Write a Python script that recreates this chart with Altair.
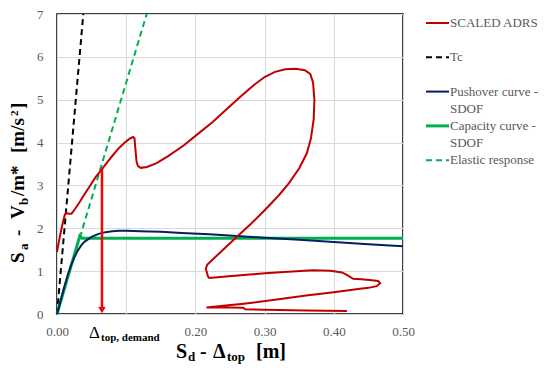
import altair as alt
import pandas as pd

# ---------------- data ----------------
adrs_x = [0.000, 0.004, 0.008, 0.011, 0.013, 0.017, 0.021, 0.026, 0.033, 0.040, 0.048, 0.056,
          0.065, 0.073, 0.081, 0.090, 0.098, 0.105, 0.110, 0.112, 0.113, 0.115, 0.117, 0.121,
          0.130, 0.144, 0.160, 0.183, 0.205, 0.225, 0.245, 0.265, 0.285, 0.300, 0.315, 0.330,
          0.345, 0.358, 0.366, 0.370, 0.372, 0.371, 0.367, 0.361, 0.350, 0.335, 0.320, 0.300,
          0.280, 0.260, 0.240, 0.225, 0.217, 0.215, 0.217, 0.218, 0.220, 0.240, 0.270, 0.300,
          0.340, 0.370, 0.395, 0.412, 0.420, 0.428, 0.440, 0.455, 0.464, 0.467, 0.462, 0.450,
          0.438, 0.400, 0.360, 0.315, 0.270, 0.240, 0.216, 0.250, 0.269, 0.272, 0.300, 0.360,
          0.419]
adrs_y = [1.45, 1.80, 2.10, 2.30, 2.36, 2.34, 2.34, 2.45, 2.62, 2.80, 3.00, 3.20,
          3.38, 3.55, 3.71, 3.88, 4.00, 4.09, 4.13, 4.10, 3.90, 3.55, 3.45, 3.41,
          3.43, 3.52, 3.68, 3.93, 4.22, 4.48, 4.78, 5.07, 5.35, 5.53, 5.65, 5.71,
          5.72, 5.69, 5.60, 5.40, 5.00, 4.55, 4.10, 3.75, 3.40, 3.05, 2.76, 2.42,
          2.10, 1.80, 1.50, 1.27, 1.15, 1.05, 0.95, 0.88, 0.84, 0.87, 0.91, 0.95,
          0.99, 1.02, 1.01, 0.97, 0.90, 0.82, 0.81, 0.79, 0.77, 0.72, 0.65, 0.61,
          0.59, 0.51, 0.43, 0.33, 0.24, 0.19, 0.15, 0.15, 0.145, 0.11, 0.10, 0.08,
          0.07]

tc_x = [0.0, 0.038]
tc_y = [0.0, 7.0]

push_x = [0.0, 0.005, 0.01, 0.015, 0.02, 0.025, 0.03, 0.035, 0.04, 0.05, 0.06, 0.07, 0.08,
          0.09, 0.10, 0.12, 0.15, 0.18, 0.22, 0.26, 0.30, 0.35, 0.40, 0.45, 0.50]
push_y = [0.0, 0.30, 0.60, 0.88, 1.12, 1.32, 1.48, 1.60, 1.69, 1.80, 1.87, 1.91, 1.93,
          1.94, 1.94, 1.93, 1.92, 1.89, 1.86, 1.82, 1.78, 1.73, 1.68, 1.63, 1.58]

cap_x = [0.0, 0.033, 0.036, 0.50]
cap_y = [0.0, 1.82, 1.77, 1.77]

elastic_x = [0.033, 0.1296]
elastic_y = [1.78, 7.0]

demand_x = [0.065]
demand_top = [3.40]
demand_tip = [0.09]

x_ticks = [0.0, 0.1, 0.2, 0.3, 0.4, 0.5]
y_ticks = [0, 1, 2, 3, 4, 5, 6, 7]

legend_names = ["SCALED ADRS", "Tc", "Pushover curve -\nSDOF", "Capacity curve -\nSDOF", "Elastic response"]
legend_colors = ["#c00000", "#000000", "#002060", "#00b050", "#00b050"]
legend_dash = [None, [6, 4], None, None, [6, 4]]
legend_width = [2, 2, 2, 3, 2]

# ---------------- layout ----------------
W, H = 346, 300
PL, PT = 49, 6
OX, OY = 8 + PL, 8 + PT   # page coords of plot origin

SERIF = "Liberation Serif, Times New Roman, DejaVu Serif, serif"

xs = alt.Scale(domain=[0, 0.5], nice=False, zero=False)
ys = alt.Scale(domain=[0, 7], nice=False)

x_axis = alt.Axis(values=x_ticks, format=".2f", title=None, grid=True, gridColor="#d9d9d9",
                  ticks=False, domain=False, labelFont=SERIF, labelFontSize=13,
                  labelColor="#595959", labelPadding=11, labelFlush=False,
                  labelExpr="datum.value > 0.09 && datum.value < 0.11 ? '' : datum.label")
y_axis = alt.Axis(values=y_ticks, format="d", title=None, grid=True, gridColor="#d9d9d9",
                  ticks=False, domain=False, labelFont=SERIF, labelFontSize=13,
                  labelColor="#595959", labelPadding=14, labelFlush=False)

X = alt.X("x:Q", scale=xs, axis=x_axis)
Y = alt.Y("y:Q", scale=ys, axis=y_axis)


def series(xv, yv, color, width, dash=None):
    df = pd.DataFrame({"x": xv, "y": yv, "i": list(range(len(xv)))})
    kw = dict(color=color, strokeWidth=width)
    if dash:
        kw["strokeDash"] = dash
    return alt.Chart(df).mark_line(**kw).encode(x=X, y=Y, order="i:Q")


one = alt.Data(values=[{"a": 1}])


def txt(s, px, py, size, bold=False, angle=0, color="black", font=SERIF):
    kw = dict(text=s, font=font, fontSize=size, align="left", baseline="alphabetic", color=color)
    if bold:
        kw["fontWeight"] = "bold"
    if angle:
        kw["angle"] = angle
    return alt.Chart(one).mark_text(**kw).encode(x=alt.value(px - OX), y=alt.value(py - OY))


layers = [
    series(elastic_x, elastic_y, "#00b050", 2, [6, 4]),
    series(tc_x, tc_y, "#000000", 2, [6, 4]),
    series(cap_x, cap_y, "#00b050", 3),
    series(push_x, push_y, "#002060", 2),
    series(adrs_x, adrs_y, "#c00000", 2),
]

arrow_df = pd.DataFrame({"x": demand_x, "y": demand_top, "y2": demand_tip})
layers.append(alt.Chart(arrow_df).mark_rule(color="#ff0000", strokeWidth=2.5).encode(
    x=X, y=Y, y2="y2:Q"))
tip_df = pd.DataFrame({"x": demand_x, "y": demand_tip})
layers.append(alt.Chart(tip_df).mark_point(shape="triangle-down", filled=True, color="#ff0000",
                                           size=55, opacity=1).encode(x=X, y=Y))

# Delta_top,demand label under the axis
layers.append(txt("Δ", 89, 338, 17))
layers.append(txt("top, demand", 101, 341, 11, bold=True))

# x-axis title  S_d - Δ_top [m]
TB = 358
layers += [
    txt("S", 176, TB, 20, bold=True),
    txt("d", 188, TB + 3, 13, bold=True),
    txt("-", 200, TB, 20, bold=True),
    txt("Δ", 213, TB, 20, bold=True),
    txt("top", 227, TB + 3, 13, bold=True),
    txt("[m]", 256, TB, 20, bold=True),
]

# y-axis title  S_a - V_b/m* [m/s^2]  (rotated)
BX = 24
layers += [
    txt("S", BX, 263, 19, bold=True, angle=270),
    txt("a", BX + 4, 250, 13, bold=True, angle=270),
    txt("-", BX, 236, 19, bold=True, angle=270),
    txt("V", BX, 219, 19, bold=True, angle=270),
    txt("b", BX + 4, 205, 13, bold=True, angle=270),
    txt("/m*", BX, 196, 19, bold=True, angle=270),
    txt("[m/s", BX, 153, 19, bold=True, angle=270),
    txt("2", BX - 6, 116, 11, bold=True, angle=270),
    txt("]", BX, 109, 19, bold=True, angle=270),
]

# legend
for k, name in enumerate(legend_names):
    yk = 23 + 34.3 * k
    kw = dict(color=legend_colors[k], strokeWidth=legend_width[k])
    if legend_dash[k]:
        kw["strokeDash"] = legend_dash[k]
    layers.append(alt.Chart(one).mark_rule(**kw).encode(
        x=alt.value(426 - OX), x2=alt.value(449 - OX), y=alt.value(yk - OY)))
    for j, line in enumerate(name.split("\n")):
        t = alt.Chart(one).mark_text(text=line, font=SERIF, fontSize=13, align="left",
                                     baseline="middle", color="#595959").encode(
            x=alt.value(450 - OX), y=alt.value(yk + 17.3 * j - OY))
        layers.append(t)

chart = alt.layer(*layers).properties(
    width=W, height=H,
    padding={"left": PL, "top": PT, "right": 550 - 16 - PL - W, "bottom": 374 - 16 - PT - H},
    autosize=alt.AutoSizeParams(type="none"),
    background="white",
).configure_view(stroke="black", strokeWidth=1.5)

chart.save("out.html", embed_options={"renderer": "svg", "actions": False})
